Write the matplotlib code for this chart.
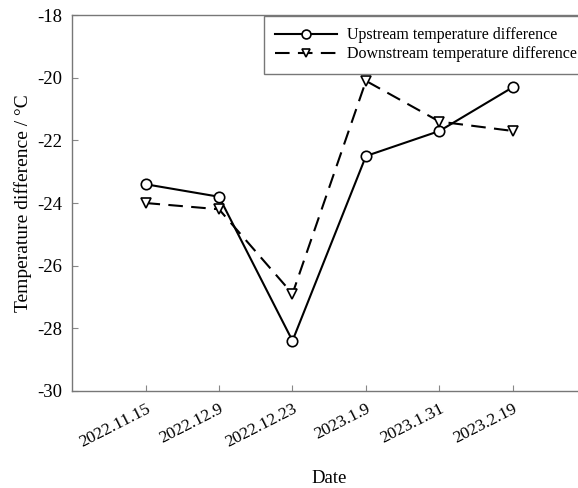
import matplotlib
matplotlib.use("Agg")
import matplotlib.pyplot as plt

plt.rcParams["font.family"] = ["Liberation Serif", "DejaVu Serif"]
plt.rcParams["axes.unicode_minus"] = False

dates = ["2022.11.15", "2022.12.9", "2022.12.23", "2023.1.9", "2023.1.31", "2023.2.19"]
upstream = [-23.4, -23.8, -28.4, -22.5, -21.7, -20.3]
downstream = [-24.0, -24.2, -26.9, -20.1, -21.4, -21.7]

fig = plt.figure(figsize=(5.78, 4.88), dpi=100)
ax = fig.add_axes([0.1246, 0.199, 0.89, 0.770])

x = list(range(1, len(dates) + 1))
ax.plot(x, upstream, color="black", lw=1.5, marker="o", ms=7.5,
        mfc="white", mec="black", mew=1.2, label="Upstream temperature difference")
ax.plot(x, downstream, color="black", lw=1.5, ls=(0, (7, 4)), marker="v", ms=7.5,
        mfc="white", mec="black", mew=1.2, label="Downstream temperature difference")

ax.set_xlim(0, 7)
ax.set_ylim(-30, -18)
ax.set_xticks(x)
ax.set_xticklabels(dates, rotation=27, ha="right", rotation_mode="anchor", fontsize=12.5)
ax.set_yticks(range(-30, -17, 2))
ax.tick_params(axis="y", labelsize=13.5, pad=7)
ax.tick_params(axis="x", pad=7)
ax.tick_params(direction="in", length=4, color="#888888", width=0.8)
for s in ax.spines.values():
    s.set_color("#777777")
    s.set_linewidth(1.0)

ax.set_xlabel("Date", fontsize=13.5, labelpad=14)
ax.set_ylabel("Temperature difference / \u00b0C", fontsize=14, labelpad=4)

leg = fig.legend(loc="upper left", bbox_to_anchor=(264 / 578, 1 - 16 / 488),
                 fontsize=11.5, frameon=True, fancybox=False, framealpha=1,
                 edgecolor="#777777", handlelength=3.9, handletextpad=0.6,
                 borderpad=0.7, labelspacing=0.2, borderaxespad=0,
                 markerscale=0.85)
leg.get_frame().set_linewidth(1.0)

fig.savefig("out.png", dpi=100)
